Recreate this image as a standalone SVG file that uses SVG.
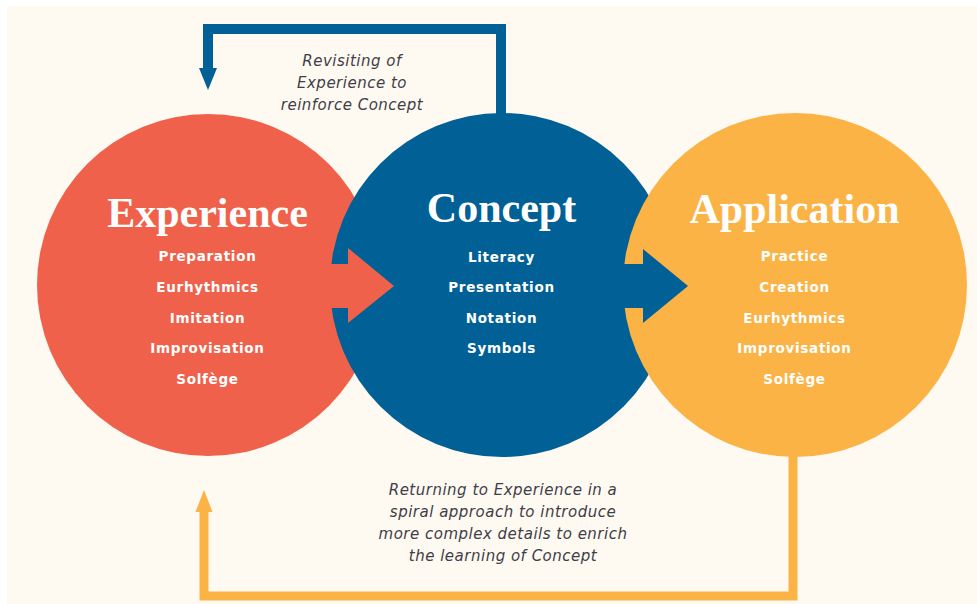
<svg xmlns="http://www.w3.org/2000/svg" width="977" height="604" viewBox="0 0 977 604">
  <style>
    .title { font-family: "Liberation Serif", "Times New Roman", serif; font-weight: bold; font-size: 42px; fill: #ffffff; text-anchor: middle; }
    .item { font-family: "DejaVu Sans", "Liberation Sans", sans-serif; font-weight: bold; font-size: 13.5px; letter-spacing: 0.7px; fill: #ffffff; text-anchor: middle; }
    .note { font-family: "DejaVu Sans", "Liberation Sans", sans-serif; font-style: italic; font-size: 15px; letter-spacing: 0.5px; fill: #3e3e48; text-anchor: middle; }
    .red { fill: #F0614B; }
    .blue { fill: #016096; }
    .yellow { fill: #FBB346; }
    .loop-blue { fill: none; stroke: #016096; stroke-width: 10; stroke-linejoin: miter; }
    .loop-yellow { fill: none; stroke: #FBB346; stroke-width: 9; stroke-linejoin: miter; }
  </style>
  <rect x="0" y="0" width="977" height="604" fill="#ffffff"/>
  <rect x="7" y="6" width="970" height="598" fill="#FEF9F1"/>

  <g id="node-experience">
    <circle class="red" cx="208" cy="285" r="171"/>
    <text class="title" x="207.5" y="227">Experience</text>
    <text class="item" x="207.5" y="261">Preparation</text>
    <text class="item" x="207.5" y="292">Eurhythmics</text>
    <text class="item" x="207.5" y="323">Imitation</text>
    <text class="item" x="207.5" y="353">Improvisation</text>
    <text class="item" x="207.5" y="384">Solfège</text>
  </g>

  <g id="node-concept">
    <circle class="blue" cx="502" cy="285" r="172"/>
    <text class="title" x="501.5" y="222">Concept</text>
    <text class="item" x="501.5" y="262">Literacy</text>
    <text class="item" x="501.5" y="292">Presentation</text>
    <text class="item" x="501.5" y="323">Notation</text>
    <text class="item" x="501.5" y="353">Symbols</text>
  </g>

  <g id="node-application">
    <circle class="yellow" cx="795" cy="285" r="172"/>
    <text class="title" x="794.5" y="223">Application</text>
    <text class="item" x="794.5" y="261">Practice</text>
    <text class="item" x="794.5" y="292">Creation</text>
    <text class="item" x="794.5" y="323">Eurhythmics</text>
    <text class="item" x="794.5" y="353">Improvisation</text>
    <text class="item" x="794.5" y="384">Solfège</text>
  </g>

  <g id="connectors">
    <polygon id="arrow-experience-concept" class="red" points="300,264 348,264 348,248 394,286 348,323 348,308 300,308"/>
    <polygon id="arrow-concept-application" class="blue" points="600,264 643,264 643,249 688,286 643,323 643,308 600,308"/>
    <g id="loop-revisit">
      <polyline class="loop-blue" points="501,120 501,29 208,29 208,70"/>
      <polygon class="blue" points="199,68 217,68 208,90"/>
    </g>
    <g id="loop-return">
      <polyline class="loop-yellow" points="793,450 793,596 204,596 204,510"/>
      <polygon class="yellow" points="195.5,512 212.5,512 204,490"/>
    </g>
  </g>

  <g id="label-revisit">
    <text class="note" x="352" y="66">Revisiting of</text>
    <text class="note" x="352" y="88">Experience to</text>
    <text class="note" x="352" y="110">reinforce Concept</text>
  </g>
  <g id="label-return">
    <text class="note" x="503" y="495">Returning to Experience in a</text>
    <text class="note" x="503" y="517">spiral approach to introduce</text>
    <text class="note" x="503" y="539">more complex details to enrich</text>
    <text class="note" x="503" y="561">the learning of Concept</text>
  </g>
</svg>
